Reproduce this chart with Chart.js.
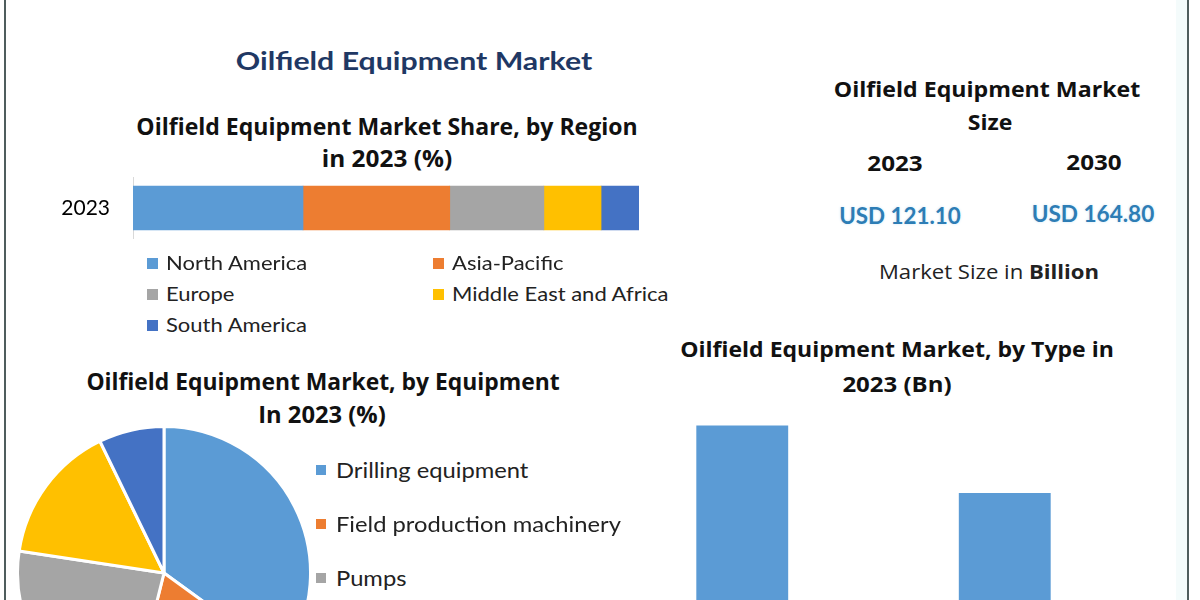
<!DOCTYPE html>
<html>
<head>
<meta charset="utf-8">
<script src="https://cdn.jsdelivr.net/npm/chart.js@4.4.1/dist/chart.umd.min.js"></script>
<style>
html,body{margin:0;padding:0;}
body{width:1200px;height:600px;overflow:hidden;position:relative;background:#fff;font-family:Lato,sans-serif;}
.t{position:absolute;white-space:nowrap;line-height:1;transform:translate(-50%,-50%);}
.os{font-family:"Open Sans",sans-serif;font-weight:700;color:#111;}
.lt{font-family:Lato,sans-serif;}
canvas{position:absolute;}
.lg{position:absolute;white-space:nowrap;line-height:1;font-family:Lato,sans-serif;color:#222;}
.lg .sq{position:absolute;top:50%;}
.lg .tx{position:absolute;top:0;transform-origin:0 50%;}
.rule{position:absolute;top:0;height:600px;}
</style>
</head>
<body>
<div class="rule" style="left:1176px;width:11px;background:#f4fbfb"></div>
<div class="rule" style="left:4px;width:2px;background:#4f5d5d"></div>
<div class="rule" style="left:1187px;width:2px;background:#4f5d5d"></div>

<div class="t lt" data-w="356" style="left:414px;top:60px;font-size:25px;font-weight:700;color:#1f3864">Oilfield Equipment Market</div>

<div class="t os" data-w="501" style="left:387px;top:126px;font-size:24px">Oilfield Equipment Market Share, by Region</div>
<div class="t os" data-w="130" style="left:387px;top:158px;font-size:24px">in 2023 (%)</div>

<div class="t os" data-w="473" style="left:323px;top:381px;font-size:23px">Oilfield Equipment Market, by Equipment</div>
<div class="t os" data-w="128" style="left:322px;top:414px;font-size:23px">In 2023 (%)</div>

<div class="t os" data-w="306" style="left:987px;top:88px;font-size:22px">Oilfield Equipment Market</div>
<div class="t os" data-w="45" style="left:990px;top:121px;font-size:22px">Size</div>
<div class="t os" data-w="55" style="left:895px;top:162px;font-size:22px">2023</div>
<div class="t os" data-w="55" style="left:1094px;top:161px;font-size:22px">2030</div>
<div class="t lt" data-w="122" style="left:900px;top:216px;font-size:22px;font-weight:700;color:#2d7db5;text-shadow:0 0 3px #cfe6f5">USD 121.10</div>
<div class="t lt" data-w="123" style="left:1093px;top:214px;font-size:22px;font-weight:700;color:#2d7db5;text-shadow:0 0 3px #cfe6f5">USD 164.80</div>
<div class="t" data-w="220" style="left:989px;top:272px;font-size:20px;font-family:'Open Sans',sans-serif;color:#222">Market Size in <b>Billion</b></div>

<div class="t os" data-w="434" style="left:897px;top:348px;font-size:22px">Oilfield Equipment Market, by Type in</div>
<div class="t os" data-w="109" style="left:897px;top:383px;font-size:22px">2023 (Bn)</div>

<canvas id="regionChart" width="586" height="132" style="left:53px;top:142px;width:586px;height:132px"></canvas>
<canvas id="equipChart" width="296" height="296" style="left:16px;top:425px;width:296px;height:296px"></canvas>
<canvas id="typeChart" width="525" height="277" style="left:611px;top:392px;width:525px;height:277px"></canvas>

<div id="regionLegend"></div>
<div id="equipLegend"></div>

<script>
// ---- data ----
const regionYears = ["2023"];
const regionNames = ["North America", "Asia-Pacific", "Europe", "Middle East and Africa", "South America"];
const regionShares = [33.6, 29.0, 18.6, 11.3, 7.5];
const regionColors = ["#5b9bd5", "#ed7d31", "#a5a5a5", "#ffc000", "#4472c4"];

const equipNames = ["Drilling equipment", "Field production machinery", "Pumps", "Valves and manifolds", "Others"];
const equipShares = [35.0, 18.9, 23.5, 15.4, 7.2];
const equipColors = ["#5b9bd5", "#ed7d31", "#a5a5a5", "#ffc000", "#4472c4"];

const typeNames = ["Onshore", "Offshore"];
const typeValues = [70.3, 50.8];
const typeColor = "#5b9bd5";
const typeAxisMax = 80;

Chart.defaults.font.family = "Lato, sans-serif";
Chart.defaults.animation = false;

// ---- stacked region bar ----
const rCanvas = document.getElementById("regionChart");
const rc = new Chart(rCanvas, {
  type: "bar",
  data: {
    labels: regionYears,
    datasets: regionNames.map((n, i) => ({
      label: n, data: [regionShares[i]], backgroundColor: regionColors[i],
      barThickness: 44, borderWidth: 0
    }))
  },
  options: {
    indexAxis: "y", responsive: false, animation: false,
    layout: { padding: 0 },
    plugins: { legend: { display: false }, tooltip: { enabled: false } },
    scales: {
      x: { stacked: true, min: 0, max: 100, display: false },
      y: {
        stacked: true,
        grid: { display: false, drawTicks: false },
        border: { display: true, color: "#d9d9d9", width: 1 },
        ticks: { color: "#000", font: { size: 21 }, padding: 23 },
        afterFit(s) { s.width = 80; }
      }
    }
  }
});
// align the plot so the bar centre sits at y=208 and the plot starts at x=133
const ca = rc.chartArea;
rCanvas.style.top = (208 - (ca.top + ca.bottom) / 2) + "px";
rCanvas.style.left = (133 - ca.left) + "px";

// ---- equipment pie ----
new Chart(document.getElementById("equipChart"), {
  type: "pie",
  data: {
    labels: equipNames,
    datasets: [{ data: equipShares, backgroundColor: equipColors, borderColor: "#ffffff", borderWidth: 3 }]
  },
  options: {
    responsive: false, animation: false,
    layout: { padding: 0 },
    plugins: { legend: { display: false }, tooltip: { enabled: false } }
  }
});

// ---- type bar ----
new Chart(document.getElementById("typeChart"), {
  type: "bar",
  data: {
    labels: typeNames,
    datasets: [{ data: typeValues, backgroundColor: typeColor, categoryPercentage: 1, barPercentage: 0.35 }]
  },
  options: {
    responsive: false, animation: false,
    layout: { padding: 0 },
    plugins: { legend: { display: false }, tooltip: { enabled: false } },
    scales: {
      x: { display: false },
      y: { display: false, min: 0, max: typeAxisMax }
    }
  }
});

// ---- HTML legends ----
function legendItem(parent, x, y, text, color, size, sq, gap, sx) {
  const d = document.createElement("div");
  d.className = "lg";
  d.style.left = x + "px"; d.style.top = (y - size / 2) + "px";
  d.style.fontSize = size + "px"; d.style.height = size + "px";
  const s = document.createElement("div");
  s.className = "sq";
  s.style.left = "0px"; s.style.width = sq + "px"; s.style.height = sq + "px";
  s.style.marginTop = (-sq / 2 + 1) + "px"; s.style.background = color;
  const t = document.createElement("div");
  t.className = "tx"; t.textContent = text;
  t.style.left = (sq + gap) + "px";
  t.style.transform = "scaleX(" + sx + ")";
  d.appendChild(s); d.appendChild(t);
  parent.appendChild(d);
}
const rl = document.getElementById("regionLegend");
regionNames.forEach((n, i) => {
  const col = i % 2, row = Math.floor(i / 2);
  legendItem(rl, col ? 433 : 147, 262 + row * 31, n, regionColors[i], 20, 11, 8, 1.1);
});
const el = document.getElementById("equipLegend");
equipNames.forEach((n, i) => {
  legendItem(el, 316, 469 + i * 54, n, equipColors[i], 21, 10, 10, 1.13);
});

// ---- fit text widths ----
function fit() {
  document.querySelectorAll(".t[data-w]").forEach(e => {
    const w = e.offsetWidth;
    e.style.transform = "translate(-50%,-50%) scaleX(" + (e.dataset.w / w) + ")";
  });
}
fit();
if (document.fonts && document.fonts.ready) document.fonts.ready.then(fit);
</script>
</body>
</html>
